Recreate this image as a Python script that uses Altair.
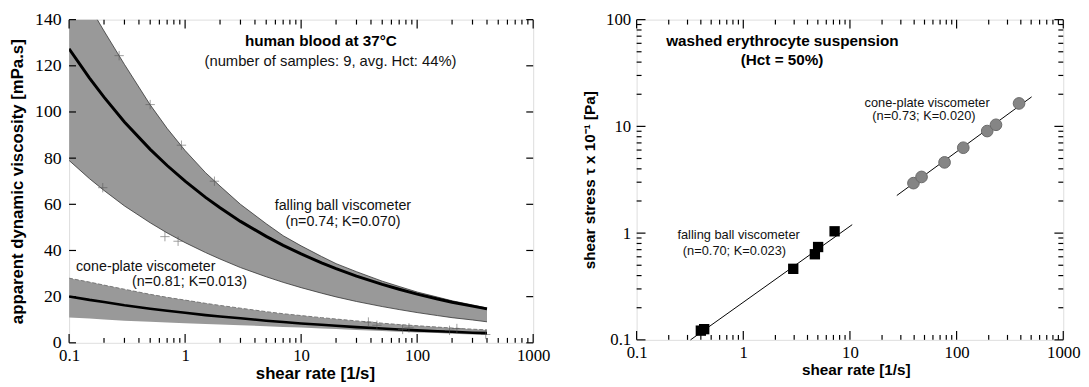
import altair as alt
import pandas as pd

# ---------------- left panel: apparent viscosity of human blood ----------------
RATE = [0.1, 0.15, 0.2, 0.3, 0.5, 0.7, 1, 1.5, 2, 3, 5, 7, 10, 15, 20, 30, 50, 70, 100, 150, 200, 300, 400]
FB_MEAN = [127.4, 114.7, 106.4, 95.7, 83.8, 76.8, 70.0, 63.0, 58.5, 52.6, 46.1, 42.2, 38.5, 34.6, 32.1, 28.9, 25.3, 23.2, 21.1, 19.0, 17.6, 15.9, 14.7]
FB_UPPER = [161.8, 145.7, 135.1, 120.6, 103.1, 92.9, 83.3, 73.7, 67.9, 60.0, 51.6, 46.4, 42.0, 37.4, 34.3, 30.8, 26.7, 24.4, 22.0, 19.8, 18.2, 16.4, 15.1]
FB_LOWER = [79.0, 71.1, 66.0, 59.3, 52.0, 47.6, 43.4, 39.1, 36.3, 32.6, 28.6, 26.2, 23.9, 21.5, 19.9, 17.9, 15.7, 14.4, 13.1, 11.8, 10.9, 9.9, 9.1]
CP_MEAN = [20.1, 18.6, 17.7, 16.3, 14.8, 13.9, 13.0, 12.0, 11.4, 10.6, 9.6, 9.0, 8.4, 7.8, 7.4, 6.8, 6.2, 5.8, 5.4, 5.0, 4.8, 4.4, 4.2]
CP_UPPER = [28.0, 26.3, 25.0, 23.2, 21.0, 19.7, 18.5, 17.1, 16.2, 15.0, 13.5, 12.6, 11.8, 10.9, 10.3, 9.5, 8.5, 7.9, 7.4, 6.8, 6.4, 5.9, 5.6]
CP_LOWER = [11.0, 10.5, 10.1, 9.6, 9.1, 8.8, 8.5, 8.2, 7.9, 7.6, 7.2, 6.9, 6.6, 6.2, 6.0, 5.6, 5.1, 4.8, 4.5, 4.2, 3.9, 3.6, 3.4]

PLUS_RATE = [0.27, 0.5, 0.93, 1.79, 0.195, 0.67, 0.87, 38, 45, 75, 85, 190, 220, 390]
PLUS_VAL = [124.4, 103.2, 85.6, 70.0, 67.2, 46.0, 44.0, 9.0, 7.6, 5.8, 6.5, 5.4, 6.2, 3.6]

LEFT_TEXT = ["human blood at 37°C", "(number of samples: 9, avg. Hct: 44%)",
             "falling ball viscometer", "(n=0.74; K=0.070)",
             "cone-plate viscometer", "(n=0.81; K=0.013)"]
LEFT_TEXT_X = [14.8, 17.9, 22.9, 22.9, 0.1146, 0.348]
LEFT_TEXT_Y = [130.7, 122.2, 59.4, 52.3, 32.7, 26.3]
LEFT_TEXT_KIND = ["title", "sub", "note", "note", "noteL", "noteL"]

Y_TICKS_LEFT = [0, 20, 40, 60, 80, 100, 120, 140]

# ---------------- right panel: washed erythrocyte suspension ----------------
FB_RATE = [0.40, 0.43, 2.94, 4.69, 5.03, 7.18]
FB_STRESS = [0.122, 0.126, 0.463, 0.634, 0.741, 1.04]
CP_RATE = [39.4, 46.9, 77.1, 115.5, 193.6, 234, 385]
CP_STRESS = [2.94, 3.36, 4.60, 6.31, 9.04, 10.35, 16.4]
FB_FIT_RATE = [0.32, 10.5]
FB_FIT_STRESS = [0.100, 1.20]
CP_FIT_RATE = [27.5, 505]
CP_FIT_STRESS = [2.25, 18.9]

RIGHT_TEXT = ["washed erythrocyte suspension", "(Hct = 50%)",
              "falling ball viscometer", "(n=0.70; K=0.023)",
              "cone-plate viscometer", "(n=0.73; K=0.020)"]
RIGHT_TEXT_X = [2.33, 2.31, 0.904, 0.826, 52.9, 49.4]
RIGHT_TEXT_Y = [62.5, 41.6, 0.967, 0.681, 16.7, 12.6]
RIGHT_TEXT_KIND = ["title", "title", "note", "note", "note", "note"]

X_MAJOR = [0.1, 1, 10, 100, 1000]
X_MINOR = [0.2, 0.3, 0.4, 0.5, 0.6, 0.7, 0.8, 0.9, 2, 3, 4, 5, 6, 7, 8, 9,
           20, 30, 40, 50, 60, 70, 80, 90, 200, 300, 400, 500, 600, 700, 800, 900]
Y_MAJOR_R = [0.1, 1, 10, 100]
Y_MINOR_R = [0.2, 0.3, 0.4, 0.5, 0.6, 0.7, 0.8, 0.9, 2, 3, 4, 5, 6, 7, 8, 9,
             20, 30, 40, 50, 60, 70, 80, 90]

SANS = "Liberation Sans"
SERIF = "Liberation Serif"
W1, H1 = 471, 328
W2, H2 = 433, 325

# ---------------- data frames ----------------
left_df = pd.DataFrame({"rate": RATE, "fb": FB_MEAN, "fb_up": FB_UPPER, "fb_lo": FB_LOWER,
                        "cp": CP_MEAN, "cp_up": CP_UPPER, "cp_lo": CP_LOWER})
plus_df = pd.DataFrame({"rate": PLUS_RATE, "val": PLUS_VAL})
ltext_df = pd.DataFrame({"rate": LEFT_TEXT_X, "val": LEFT_TEXT_Y, "txt": LEFT_TEXT, "kind": LEFT_TEXT_KIND})
xmaj_df = pd.DataFrame({"rate": X_MAJOR})
xmin_df = pd.DataFrame({"rate": X_MINOR})
ytl_df = pd.DataFrame({"val": Y_TICKS_LEFT})

fb_pts = pd.DataFrame({"rate": FB_RATE, "stress": FB_STRESS})
cp_pts = pd.DataFrame({"rate": CP_RATE, "stress": CP_STRESS})
fb_fit = pd.DataFrame({"rate": FB_FIT_RATE, "stress": FB_FIT_STRESS})
cp_fit = pd.DataFrame({"rate": CP_FIT_RATE, "stress": CP_FIT_STRESS})
rtext_df = pd.DataFrame({"rate": RIGHT_TEXT_X, "stress": RIGHT_TEXT_Y, "txt": RIGHT_TEXT, "kind": RIGHT_TEXT_KIND})
ymaj_df = pd.DataFrame({"stress": Y_MAJOR_R})
ymin_df = pd.DataFrame({"stress": Y_MINOR_R})

# ---------------- shared encodings ----------------
xscale = alt.Scale(type="log", domain=[0.1, 1000], nice=False)


def x_enc(field="rate", size=17, tsize=17, tx=None):
    kw = {}
    if tx is not None:
        kw["titleX"] = tx
    return alt.X(f"{field}:Q", scale=xscale,
                 axis=alt.Axis(values=X_MAJOR, format="~g", ticks=False, domain=False, grid=False,
                               labelFont=SERIF, labelFontSize=size, labelPadding=5, labelColor="black",
                               labelFlush=False, labelOverlap=False,
                               title="shear rate [1/s]", titleFont=SANS, titleFontSize=tsize,
                               titleFontWeight="bold", titleColor="black", titlePadding=2, **kw))


yscale_l = alt.Scale(domain=[0, 140], nice=False)


def yl_enc(field="val"):
    return alt.Y(f"{field}:Q", scale=yscale_l,
                 axis=alt.Axis(values=Y_TICKS_LEFT, ticks=False, domain=False, grid=False,
                               labelFont=SERIF, labelFontSize=18, labelPadding=8, labelColor="black",
                               labelFlush=False,
                               title="apparent dynamic viscosity [mPa.s]", titleFont=SANS, titleFontSize=17,
                               titleFontWeight="bold", titleColor="black", titlePadding=8))


yscale_r = alt.Scale(type="log", domain=[0.1, 100], nice=False)


def yr_enc(field="stress"):
    return alt.Y(f"{field}:Q", scale=yscale_r,
                 axis=alt.Axis(values=Y_MAJOR_R, format="~g", ticks=False, domain=False, grid=False,
                               labelFont=SERIF, labelFontSize=17, labelPadding=6, labelColor="black",
                               labelFlush=False,
                               title="shear stress  \u03c4 x 10\u207b\u00b9 [Pa]", titleFont=SANS, titleFontSize=15.5,
                               titleFontWeight="bold", titleColor="black", titlePadding=8))


BAND = "#999999"


# ---------------- left panel layers ----------------
def xl(field="rate"):
    return x_enc(field, tx=W1 / 2 + 14)


base_l = alt.Chart(left_df)
fb_band = base_l.mark_area(color=BAND, clip=True).encode(x=xl(), y=yl_enc("fb_up"), y2="fb_lo:Q")
cp_band = base_l.mark_area(color=BAND, clip=True).encode(x=xl(), y=yl_enc("cp_up"), y2="cp_lo:Q")
fb_up_line = base_l.mark_line(color="#333", strokeWidth=0.8, clip=True).encode(x=xl(), y=yl_enc("fb_up"))
fb_lo_line = base_l.mark_line(color="#333", strokeWidth=0.8, clip=True).encode(x=xl(), y=yl_enc("fb_lo"))
cp_up_line = base_l.mark_line(color="#777", strokeWidth=1, strokeDash=[4, 2], clip=True).encode(x=xl(), y=yl_enc("cp_up"))
fb_line = base_l.mark_line(color="black", strokeWidth=3, clip=True).encode(x=xl(), y=yl_enc("fb"))
cp_line = base_l.mark_line(color="black", strokeWidth=2.6, clip=True).encode(x=xl(), y=yl_enc("cp"))
plus_l = alt.Chart(plus_df).mark_point(shape="M-1,0L1,0M0,-1L0,1", size=90, filled=False,
                                       color="#555", strokeWidth=0.8).encode(x=xl(), y=yl_enc("val"))

txt_l_title = alt.Chart(ltext_df).transform_filter("datum.kind == 'title'").mark_text(
    font=SANS, fontSize=15.5, fontWeight="bold", color="black").encode(x=xl(), y=yl_enc(), text="txt:N")
txt_l_sub = alt.Chart(ltext_df).transform_filter("datum.kind == 'sub'").mark_text(
    font=SANS, fontSize=15, color="#111").encode(x=xl(), y=yl_enc(), text="txt:N")
txt_l_note = alt.Chart(ltext_df).transform_filter("datum.kind == 'note'").mark_text(
    font=SANS, fontSize=14.5, color="#111").encode(x=xl(), y=yl_enc(), text="txt:N")
txt_l_noteL = alt.Chart(ltext_df).transform_filter("datum.kind == 'noteL'").mark_text(
    font=SANS, fontSize=14.5, color="#111", align="left").encode(x=xl(), y=yl_enc(), text="txt:N")


# inward ticks (left panel)
def xticks_l(df, length):
    bottom = alt.Chart(df).mark_rule(color="black", strokeWidth=1.2).encode(
        x=xl(), y=alt.value(H1), y2=alt.value(H1 - length))
    top = alt.Chart(df).mark_rule(color="black", strokeWidth=1.2).encode(
        x=xl(), y=alt.value(0), y2=alt.value(length))
    return [bottom, top]


ticks_l = xticks_l(xmaj_df, 9) + xticks_l(xmin_df, 5)
yt_left = alt.Chart(ytl_df).mark_rule(color="black", strokeWidth=1.2).encode(
    y=yl_enc(), x=alt.value(0), x2=alt.value(7))
yt_right = alt.Chart(ytl_df).mark_rule(color="black", strokeWidth=1.2).encode(
    y=yl_enc(), x=alt.value(W1), x2=alt.value(W1 - 7))

left = alt.layer(fb_band, cp_band, fb_up_line, fb_lo_line, cp_up_line, fb_line, cp_line, plus_l,
                 txt_l_title, txt_l_sub, txt_l_note, txt_l_noteL, *ticks_l, yt_left, yt_right
                 ).properties(width=W1, height=H1)


# ---------------- right panel layers ----------------
def x_enc_r(field="rate"):
    return x_enc(field, size=17, tsize=15.5, tx=W2 / 2 + 6)


fb_fit_line = alt.Chart(fb_fit).mark_line(color="black", strokeWidth=1).encode(x=x_enc_r(), y=yr_enc())
cp_fit_line = alt.Chart(cp_fit).mark_line(color="black", strokeWidth=1).encode(x=x_enc_r(), y=yr_enc())
fb_sq = alt.Chart(fb_pts).mark_point(shape="square", filled=True, size=110, color="black", opacity=1).encode(
    x=x_enc_r(), y=yr_enc())
cp_ci = alt.Chart(cp_pts).mark_point(shape="circle", filled=True, size=140, fill="#858585", stroke="#6a6a6a",
                                     strokeWidth=1, opacity=1).encode(x=x_enc_r(), y=yr_enc())
txt_r_title = alt.Chart(rtext_df).transform_filter("datum.kind == 'title'").mark_text(
    font=SANS, fontSize=15.5, fontWeight="bold", color="black").encode(x=x_enc_r(), y=yr_enc(), text="txt:N")
txt_r_note = alt.Chart(rtext_df).transform_filter("datum.kind == 'note'").mark_text(
    font=SANS, fontSize=13, color="#111").encode(x=x_enc_r(), y=yr_enc(), text="txt:N")


def xticks_r(df, length):
    bottom = alt.Chart(df).mark_rule(color="black", strokeWidth=1.2).encode(
        x=x_enc_r(), y=alt.value(H2), y2=alt.value(H2 - length))
    top = alt.Chart(df).mark_rule(color="black", strokeWidth=1.2).encode(
        x=x_enc_r(), y=alt.value(0), y2=alt.value(length))
    return [bottom, top]


def yticks_r(df, length):
    lft = alt.Chart(df).mark_rule(color="black", strokeWidth=1.2).encode(
        y=yr_enc(), x=alt.value(0), x2=alt.value(length))
    rgt = alt.Chart(df).mark_rule(color="black", strokeWidth=1.2).encode(
        y=yr_enc(), x=alt.value(W2), x2=alt.value(W2 - length))
    return [lft, rgt]


ticks_r = xticks_r(xmaj_df, 9) + xticks_r(xmin_df, 5) + yticks_r(ymaj_df, 9) + yticks_r(ymin_df, 5)

right = alt.layer(fb_fit_line, cp_fit_line, fb_sq, cp_ci, txt_r_title, txt_r_note, *ticks_r
                  ).properties(width=W2, height=H2)

chart = alt.hconcat(left, right, spacing=32).properties(
    padding={"left": 0, "top": -1, "right": 0, "bottom": 0}
).configure_view(stroke="black", strokeWidth=1.5).configure(background="white")

chart.save("out.html", embed_options={"renderer": "svg", "actions": False})
